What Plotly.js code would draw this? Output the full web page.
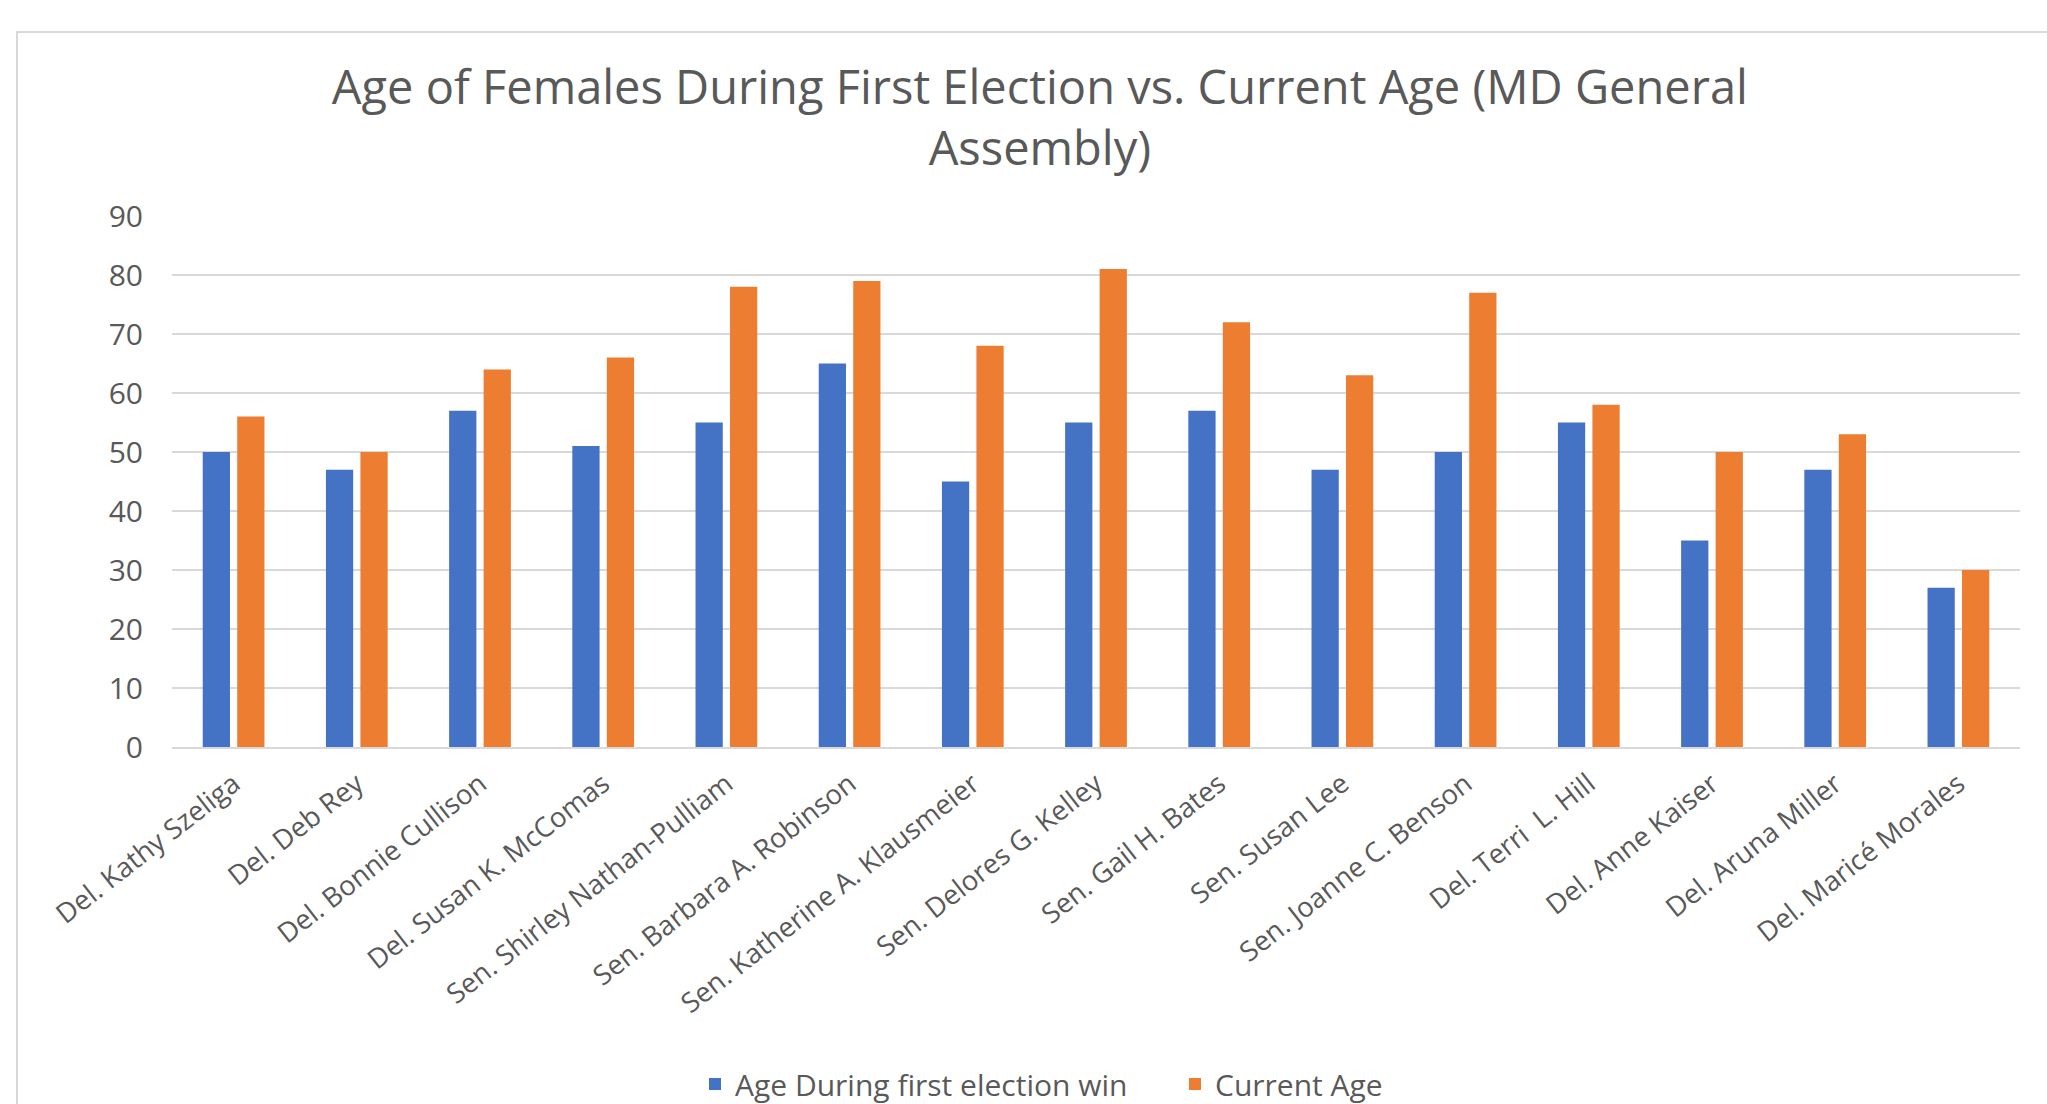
<!DOCTYPE html>
<html>
<head>
<meta charset="utf-8">
<script src="https://cdn.plot.ly/plotly-3.0.1.min.js"></script>
<style>
  html, body { margin: 0; padding: 0; background: #ffffff; overflow: hidden; }
  #chart { width: 2047px; height: 1104px; }
  #frame { position: absolute; left: 16px; top: 31px; right: -20px; bottom: -20px;
           border-top: 2px solid #d9d9d9; border-left: 2px solid #d9d9d9; pointer-events: none; }
</style>
</head>
<body>
<div id="chart"></div>
<div id="frame"></div>
<script>
const categories = [
  "Del. Kathy Szeliga", "Del. Deb Rey", "Del. Bonnie Cullison", "Del. Susan K. McComas",
  "Sen. Shirley Nathan-Pulliam", "Sen. Barbara A. Robinson", "Sen. Katherine A. Klausmeier",
  "Sen. Delores G. Kelley", "Sen. Gail H. Bates", "Sen. Susan Lee", "Sen. Joanne C. Benson",
  "Del. Terri  L. Hill", "Del. Anne Kaiser", "Del. Aruna Miller", "Del. Maricé Morales"
];
const ageFirstElection = [50, 47, 57, 51, 55, 65, 45, 55, 57, 47, 50, 55, 35, 47, 27];
const currentAge       = [56, 50, 64, 66, 78, 79, 68, 81, 72, 63, 77, 58, 50, 53, 30];
const seriesNames = ["Age During first election win", "Current Age"];
const yTicks = [0, 10, 20, 30, 40, 50, 60, 70, 80, 90];
const chartTitle = "Age of Females During First Election vs. Current Age (MD General<br>Assembly)";

const textColor = "#595959";
const fontFamily = "'Open Sans', 'Noto Sans', sans-serif";

const traces = [
  { type: "bar", name: seriesNames[0], x: categories, y: ageFirstElection,
    marker: { color: "#4472C4" }, hoverinfo: "x+y" },
  { type: "bar", name: seriesNames[1], x: categories, y: currentAge,
    marker: { color: "#ED7D31" }, hoverinfo: "x+y" }
];

const layout = {
  width: 2047, height: 1104,
  paper_bgcolor: "#ffffff", plot_bgcolor: "#ffffff",
  margin: { l: 172, r: 27, t: 216, b: 357 },
  font: { family: fontFamily, color: textColor, size: 28 },
  title: {
    text: chartTitle,
    font: { family: fontFamily, size: 47, color: textColor },
    xref: "container", x: 0.508, xanchor: "center",
    yref: "container", y: 1 - 104 / 1104, yanchor: "top"
  },
  barmode: "group",
  bargap: 0.44,
  bargroupgap: 0.21,
  xaxis: {
    type: "category",
    tickangle: -38,
    tickfont: { family: fontFamily, size: 27.5, color: textColor },
    showgrid: false,
    showline: true, linecolor: "#d9d9d9", linewidth: 2,
    ticks: "", automargin: false,
    ticklabelshift: 0, ticklabelstandoff: 8
  },
  yaxis: {
    range: [0, 90],
    tickvals: yTicks,
    ticktext: yTicks.map(String),
    tickfont: { family: fontFamily, size: 30, color: textColor },
    showgrid: true, gridcolor: "#d9d9d9", gridwidth: 2,
    zeroline: false, showline: false,
    ticks: "", ticklabelstandoff: 28, automargin: false
  },
  showlegend: true,
  legend: {
    orientation: "h",
    xref: "container", x: 695 / 2047, xanchor: "left",
    yref: "container", y: 20 / 1104, yanchor: "middle",
    entrywidth: 435, entrywidthmode: "pixels",
    font: { family: fontFamily, size: 30, color: textColor },
    bgcolor: "rgba(0,0,0,0)"
  }
};

Plotly.newPlot("chart", traces, layout, { displayModeBar: false, staticPlot: true });
</script>
</body>
</html>
